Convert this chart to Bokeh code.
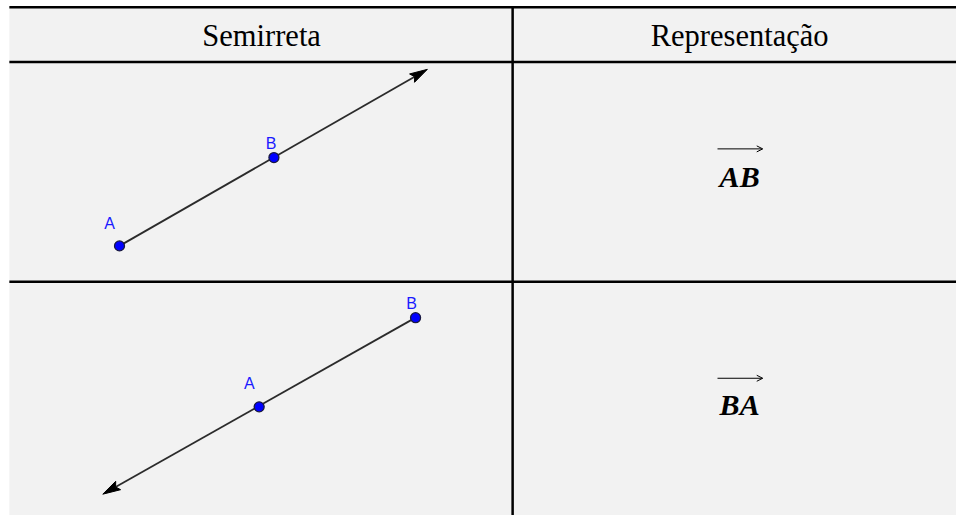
import numpy as np
from bokeh.plotting import figure
from bokeh.models import Range1d, Arrow, OpenHead
from bokeh.core.properties import value
from bokeh.embed import file_html
from bokeh.resources import INLINE

# ---- data (reference-image pixel coordinates of the diagram) ----
headers = ["Semirreta", "Representação"]
notations = ["AB", "BA"]
point_names = ["A", "B"]

# row 1: ray from A through B
row1_x = [121, 278]          # A, B
row1_y = [253, 162]
row1_tip = (434, 71)
row1_label_x = [111, 275]
row1_label_y = [230, 147]

# row 2: ray from B through A
row2_x = [263, 422]          # A, B
row2_y = [419, 327]
row2_tip = (104, 509)
row2_label_x = [253, 418]
row2_label_y = [395, 312]

# table grid
table_left, table_right = 9, 972
table_top, table_bottom = 7, 531
header_line_y = 63.5
row_line_y = 290
col_line_x = 520.7
col_centers = [265.5, 751.5]
header_y = 37
notation_y = [181, 417]
notation_arrow_y = [153, 389.5]
notation_arrow_x = [729, 775]

W, H = 956, 515
SRC_W, SRC_H = 972, 531
p = figure(width=W, height=H, output_backend="svg", toolbar_location=None,
           x_range=Range1d(0, SRC_W), y_range=Range1d(SRC_H, 0),
           min_border=0, outline_line_color=None,
           background_fill_color="white", border_fill_color="white")
p.axis.visible = False
p.grid.visible = False

# cell background
p.quad(left=[table_left], right=[table_right], top=[table_top], bottom=[table_bottom],
       fill_color="#f2f2f2", line_color=None)

# table lines
p.segment(x0=[table_left] * 3, x1=[table_right] * 3,
          y0=[table_top, header_line_y, row_line_y], y1=[table_top, header_line_y, row_line_y],
          line_color="black", line_width=2.5)
p.segment(x0=[col_line_x], x1=[col_line_x], y0=[table_top], y1=[table_bottom],
          line_color="black", line_width=2.5)

# headers
p.text(x=col_centers, y=[header_y, header_y], text=headers, text_align="center",
       text_baseline="alphabetic", text_font=value("Liberation Serif"),
       text_font_size="30.5px", text_color="black")


def draw_ray(start, tip):
    sx, sy = start
    tx, ty = tip
    d = np.array([tx - sx, ty - sy], dtype=float)
    u = d / np.linalg.norm(d)
    n = np.array([-u[1], u[0]])
    L, w = 18.0, 5.0
    base = np.array([tx, ty]) - u * L
    back = np.array([tx, ty]) - u * (L - 3)
    p.line(x=[sx, back[0]], y=[sy, back[1]], line_color="#2b2b2b", line_width=1.8)
    p1 = base + n * w
    p2 = base - n * w
    p.patch(x=[tx, p1[0], back[0], p2[0]], y=[ty, p1[1], back[1], p2[1]],
            fill_color="black", line_color="black", line_width=1)


# row 1: from A (index 0) past B
draw_ray((row1_x[0], row1_y[0]), row1_tip)
# row 2: from B (index 1) past A
draw_ray((row2_x[1], row2_y[1]), row2_tip)

for xs, ys, lx, ly in [(row1_x, row1_y, row1_label_x, row1_label_y),
                       (row2_x, row2_y, row2_label_x, row2_label_y)]:
    p.scatter(x=xs, y=ys, size=10, marker="circle", fill_color="#0000ff",
              line_color="#1a1a40", line_width=1.3)
    p.text(x=lx, y=ly, text=point_names, text_align="center",
           text_baseline="alphabetic", text_font=value("Liberation Sans"),
           text_font_size="16px", text_color="#1a1aff")

# notation column
p.text(x=[col_centers[1]] * 2, y=notation_y, text=notations, text_align="center",
       text_baseline="alphabetic", text_font=value("Liberation Serif"),
       text_font_style="bold italic", text_font_size="30px", text_color="black")
for ay in notation_arrow_y:
    p.add_layout(Arrow(end=OpenHead(size=6, line_width=1, line_color="black"),
                       x_start=notation_arrow_x[0], y_start=ay,
                       x_end=notation_arrow_x[1], y_end=ay,
                       line_color="black", line_width=1))

open("out.html", "w").write(file_html(p, INLINE))
